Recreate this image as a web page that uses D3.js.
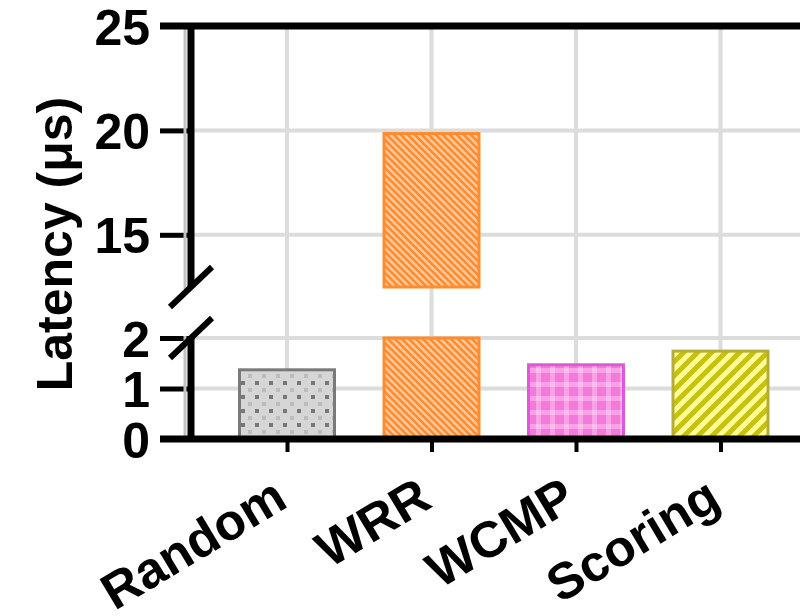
<!DOCTYPE html>
<meta charset="utf-8">
<html>
<head>
  <meta charset="utf-8">
  <title>Latency broken axis</title>
</head>
<style>
  body { margin: 0; background: #fff; }
  text { font-family: "Liberation Sans", Arial, sans-serif; font-weight: bold; fill: #000; }
</style>
<body>
<svg width="800" height="616"></svg>
<script src="https://d3js.org/d3.v7.min.js"></script>
<script>

var categories = ["Random", "WRR", "WCMP", "Scoring"];
var latency = [1.37, 19.85, 1.47, 1.74];
var lowerTicks = [0, 1, 2];
var upperTicks = [15, 20, 25];
var lowerDomain = [0, 2];
var upperDomain = [12.5, 25];
var yLabel = "Latency (\u03bcs)";

var svg = d3.select("svg");
var axisX = 191, rightX = 800;

var x = d3.scalePoint().domain(categories).range([287, 720.5]);
var yUp = d3.scaleLinear().domain(upperDomain).range([287, 26]);
var yLo = d3.scaleLinear().domain(lowerDomain).range([439, 338]);
var barW = 95;

// patterns
var defs = svg.append("defs");
var p1 = defs.append("pattern").attr("id", "pRandom").attr("patternUnits", "userSpaceOnUse")
  .attr("width", 14).attr("height", 14);
p1.append("rect").attr("width", 14).attr("height", 14).attr("fill", "#d6d6d6");
p1.append("rect").attr("x", 3).attr("y", 3).attr("width", 4).attr("height", 4).attr("fill", "#777");
p1.append("rect").attr("x", 10).attr("y", 10).attr("width", 4).attr("height", 4).attr("fill", "#bcbcbc");

var p2 = defs.append("pattern").attr("id", "pWRR").attr("patternUnits", "userSpaceOnUse")
  .attr("width", 7).attr("height", 7);
p2.append("rect").attr("width", 7).attr("height", 7).attr("fill", "#ffc99c");
p2.append("path").attr("d", "M-2,-2L9,9M-2,5L2,9M5,-2L9,2")
  .attr("stroke", "#ff8c2e").attr("stroke-width", 2.6);

var p3 = defs.append("pattern").attr("id", "pWCMP").attr("patternUnits", "userSpaceOnUse")
  .attr("width", 14).attr("height", 14);
p3.append("rect").attr("width", 14).attr("height", 14).attr("fill", "#f27ad9");
p3.append("rect").attr("x", 4).attr("width", 5).attr("height", 14).attr("fill", "#fff").attr("opacity", 0.3);
p3.append("rect").attr("y", 4).attr("width", 14).attr("height", 5).attr("fill", "#fff").attr("opacity", 0.3);

var p4 = defs.append("pattern").attr("id", "pScoring").attr("patternUnits", "userSpaceOnUse")
  .attr("width", 14).attr("height", 14);
p4.append("rect").attr("width", 14).attr("height", 14).attr("fill", "#ffff99");
p4.append("path").attr("d", "M-4,4L4,-4M0,14L14,0M10,18L18,10")
  .attr("stroke", "#c9c20a").attr("stroke-width", 5);

var fills = ["url(#pRandom)", "url(#pWRR)", "url(#pWCMP)", "url(#pScoring)"];
var strokes = ["#7a7a7a", "#ff8c2e", "#dc5ad9", "#b5ad3a"];

// grid
var grid = svg.append("g").attr("stroke", "#dcdcdc").attr("stroke-width", 4);
grid.selectAll(".gv").data(categories).enter().append("line")
  .attr("x1", function(d) { return x(d); }).attr("x2", function(d) { return x(d); })
  .attr("y1", yUp(25)).attr("y2", yLo(0));
grid.selectAll(".gu").data(upperTicks.slice(0, 2)).enter().append("line")
  .attr("x1", axisX).attr("x2", rightX)
  .attr("y1", function(d) { return yUp(d); }).attr("y2", function(d) { return yUp(d); });
grid.selectAll(".gl").data(lowerTicks.slice(1)).enter().append("line")
  .attr("x1", axisX).attr("x2", rightX)
  .attr("y1", function(d) { return yLo(d); }).attr("y2", function(d) { return yLo(d); });

// bars, lower part
var bars = categories.map(function(c, i) { return { cat: c, v: latency[i], i: i }; });
svg.append("g").selectAll("rect").data(bars).enter().append("rect")
  .attr("x", function(d) { return x(d.cat) - barW / 2; })
  .attr("width", barW)
  .attr("y", function(d) { return yLo(Math.min(d.v, lowerDomain[1])); })
  .attr("height", function(d) { return yLo(0) - yLo(Math.min(d.v, lowerDomain[1])); })
  .attr("fill", function(d) { return fills[d.i]; })
  .attr("stroke", function(d) { return strokes[d.i]; })
  .attr("stroke-width", 3);

// bars, upper part
svg.append("g").selectAll("rect").data(bars.filter(function(d) { return d.v > upperDomain[0]; }))
  .enter().append("rect")
  .attr("x", function(d) { return x(d.cat) - barW / 2; })
  .attr("width", barW)
  .attr("y", function(d) { return yUp(d.v); })
  .attr("height", function(d) { return yUp(upperDomain[0]) - yUp(d.v); })
  .attr("fill", function(d) { return fills[d.i]; })
  .attr("stroke", function(d) { return strokes[d.i]; })
  .attr("stroke-width", 3);

// y axes
function styleAxis(g) {
  g.select(".domain").remove();
  g.selectAll(".tick line").attr("stroke", "#000").attr("stroke-width", 5);
  g.selectAll(".tick text").attr("font-size", 50).attr("x", -41).attr("dy", "0.36em");
}
svg.append("g").attr("transform", "translate(" + axisX + ",0)")
  .call(d3.axisLeft(yUp).tickValues(upperTicks).tickFormat(d3.format("d")).tickSize(31))
  .call(styleAxis);
svg.append("g").attr("transform", "translate(" + axisX + ",0)")
  .call(d3.axisLeft(yLo).tickValues(lowerTicks).tickFormat(d3.format("d")).tickSize(31))
  .call(styleAxis);

// shadow line left of the axis
svg.append("line").attr("x1", axisX - 6).attr("x2", axisX - 6)
  .attr("y1", yUp(25)).attr("y2", yLo(0)).attr("stroke", "#c2c2c2").attr("stroke-width", 3);
svg.append("line").attr("x1", axisX - 6).attr("x2", axisX - 6)
  .attr("y1", yUp(12.5) + 2).attr("y2", yLo(2) - 2).attr("stroke", "#fff").attr("stroke-width", 5);

// spines
var spines = svg.append("g").attr("stroke", "#000").attr("stroke-width", 7);
spines.append("line").attr("x1", axisX).attr("x2", axisX).attr("y1", yUp(25) - 3).attr("y2", yUp(12.5));
spines.append("line").attr("x1", axisX).attr("x2", axisX).attr("y1", yLo(2)).attr("y2", yLo(0) + 3);
spines.append("line").attr("x1", 160).attr("x2", rightX).attr("y1", yUp(25)).attr("y2", yUp(25));
spines.append("line").attr("x1", 160).attr("x2", rightX).attr("y1", yLo(0)).attr("y2", yLo(0));

// break marks
var brk = svg.append("g").attr("stroke", "#000").attr("stroke-width", 6);
[yUp(12.5), yLo(2)].forEach(function(yy) {
  brk.append("line").attr("x1", axisX - 21).attr("y1", yy + 20).attr("x2", axisX + 21).attr("y2", yy - 20);
});

// x axis
var xg = svg.append("g").attr("transform", "translate(0," + yLo(0) + ")")
  .call(d3.axisBottom(x).tickSize(13));
xg.select(".domain").remove();
xg.selectAll(".tick line").attr("stroke", "#000").attr("stroke-width", 4);
xg.selectAll(".tick text").attr("font-size", 51).attr("x", 0).attr("y", 0).attr("dy", 0)
  .attr("text-anchor", "end")
  .attr("transform", "translate(2,67) rotate(-31)");

// y label
svg.append("text").attr("transform", "translate(72,244) rotate(-90)")
  .attr("text-anchor", "middle").attr("font-size", 50).text(yLabel);

</script>
</body>
</html>
